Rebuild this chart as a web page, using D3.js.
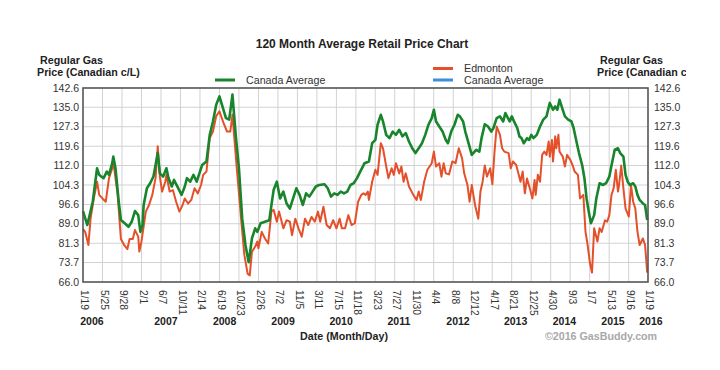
<!DOCTYPE html>
<html lang="en">
<head>
<meta charset="utf-8">
<script src="https://d3js.org/d3.v7.min.js"></script>
<style>
  body { margin: 0; background: #fff; }
  text { font-family: Arial, "Liberation Sans", sans-serif; }
</style>
</head>
<body>
<script>
// x axis tick dates (labels are month/day)
const tickDates = ["2006-01-19","2006-05-25","2006-09-28","2007-02-01","2007-06-07","2007-10-11",
  "2008-02-14","2008-06-19","2008-10-23","2009-02-26","2009-07-02","2009-11-05","2010-03-11",
  "2010-07-15","2010-11-18","2011-03-23","2011-07-27","2011-11-30","2012-04-04","2012-08-08",
  "2012-12-12","2013-04-17","2013-08-21","2013-12-25","2014-04-30","2014-09-03","2015-01-07",
  "2015-05-13","2015-09-16","2016-01-19"];
const years = ["2006","2007","2008","2009","2010","2011","2012","2013","2014","2015","2016"];
const yearDates = ["2006-03-18","2007-07-09","2008-07-22","2009-08-04","2010-08-14","2011-08-23",
  "2012-09-08","2013-09-15","2014-07-28","2015-06-07","2016-02-07"];
const yTicks = [66.0, 73.7, 81.3, 89.0, 96.6, 104.3, 112.0, 119.6, 127.3, 135.0, 142.6];

// weeks since 2006-01-19
const canadaWeeks = [0,4,9,13,15,17,19,22,24,27,28,30,33,35,39,42,45,48,51,53,55,56,59,62,65,67,69,71,74,77,79,82,84,88,91,94,96,99,102,105,108,110,114,117,120,123,126,
  132,135,138,141,144,147,150,153,156,159,161,164,168,172,174,176,179,182,185,188,191,194,197,200,203,206,209,212,215,218,223,226,229,232,235,238,241,244,247,250,253,256,260,
  264,267,270,272,275,277,280,283,286,289,292,295,298,301,304,307,310,313,316,319,322,324,326,329,332,335,337,340,343,346,348,351,353,356,359,363,366,368,371,374,377,379,382,385,388,390,
  394,396,398,401,403,405,407,410,412,414,416,419,422,425,428,431,434,436,438,440,443,445,448,451,453,456,458,461,463,465,467,469,472,474,477,480,483,486,488,491,494,496,499,501,503,505,508,510,512,514,517,519,521];
const canadaValues = [94.0,88.5,97.7,110.9,108.3,107.6,107.0,109.6,108.3,112.9,115.5,110.9,97.7,90.5,89.0,87.8,89.8,94.0,92.4,85.8,88.5,96.4,103.0,105.0,107.6,112.2,116.9,108.9,107.6,110.9,107.0,103.7,106.3,103.0,100.4,103.7,107.0,105.6,108.3,105.6,109.6,112.2,113.6,124.0,129.4,136.0,139.3,
  130.7,130.1,140.0,124.1,110.9,91.0,80.6,73.8,83.2,87.2,85.8,89.2,89.8,90.4,96.4,102.3,105.6,99.0,101.7,97.0,95.0,99.0,103.0,100.4,96.4,101.0,99.7,101.7,103.7,104.3,104.6,103.0,99.7,101.0,100.4,101.7,101.0,101.7,104.3,105.0,107.0,109.6,112.9,
  113.6,120.8,122.1,128.1,132.0,129.4,124.1,122.8,125.4,124.1,126.1,123.5,124.8,121.5,118.8,116.9,118.8,120.8,124.1,128.1,130.7,134.0,129.4,127.4,125.4,122.1,120.8,125.4,128.1,132.0,131.4,129.4,125.4,120.8,116.2,118.2,117.5,122.8,128.3,127.4,125.4,126.8,130.7,131.4,129.4,132.7,
  129.4,131.4,129.4,126.8,123.5,122.8,120.8,122.8,122.1,124.1,122.8,124.1,127.4,130.1,131.4,136.7,134.0,135.3,134.0,138.0,134.0,131.4,130.1,129.4,126.8,120.8,116.9,112.0,107.0,99.0,93.8,89.2,92.4,99.0,105.0,104.3,105.0,107.6,112.0,118.2,118.8,116.9,115.5,108.3,105.6,104.3,105.0,103.7,100.4,98.4,97.0,96.4,90.5];

const edmontonWeeks = [0,2,5,7,10,13,15,18,21,24,27,28,32,35,38,41,43,46,48,51,52,54,58,61,64,67,69,71,73,76,77,80,83,86,89,92,94,97,100,103,106,109,111,114,117,120,123,126,
  130,133,136,138,140,142,146,149,152,154,156,159,161,162,165,168,171,174,176,179,181,185,188,191,193,196,199,202,205,208,211,214,217,219,222,225,228,231,234,237,239,242,245,248,251,254,257,259,
  261,263,264,267,270,272,275,277,280,282,285,287,289,292,294,296,298,301,305,308,310,312,315,318,322,324,326,329,331,333,335,338,341,344,347,350,352,355,357,359,362,365,367,369,371,373,376,378,380,382,385,387,389,
  393,395,397,400,402,404,406,408,410,413,415,417,418,420,422,424,426,428,430,431,433,434,436,437,439,440,443,445,447,450,452,454,457,459,462,464,466,468,470,472,475,477,479,482,484,486,488,490,492,494,495,497,499,501,504,506,508,510,512,514,517,519,521];
const edmontonValues = [86.9,85.8,80.6,91.0,99.0,105.6,100.4,99.0,97.7,107.0,110.9,113.6,100.4,83.0,80.6,79.0,83.0,83.0,86.5,83.9,78.0,82.0,93.8,96.4,100.4,107.0,119.6,107.6,101.7,105.6,108.3,101.7,102.3,97.7,93.8,96.4,99.0,97.0,98.4,103.0,101.0,104.3,108.3,109.6,122.8,125.4,131.5,133.4,
  128.5,125.4,125.4,132.0,121.5,110.9,91.0,76.6,69.3,68.6,78.0,80.0,82.0,79.3,85.8,83.2,81.2,93.8,94.5,89.8,93.8,87.2,90.4,89.8,84.5,91.0,87.2,83.9,91.0,88.5,91.7,89.8,93.8,89.8,95.7,88.5,87.2,90.4,87.2,91.0,87.2,87.2,92.4,88.5,89.2,97.7,100.4,101.0,
  100.4,101.7,98.4,105.6,110.3,108.3,120.8,118.8,111.6,107.0,110.9,108.3,112.9,108.9,111.6,105.6,108.9,103.7,100.4,98.4,101.7,98.4,105.6,110.3,112.9,117.5,111.6,112.9,107.6,112.9,108.9,108.5,113.6,112.9,118.8,114.9,108.9,104.3,97.7,104.3,96.4,91.0,101.7,105.6,112.0,107.6,110.9,104.6,117.5,127.4,124.1,118.8,117.5,
  116.9,110.9,113.6,112.2,108.9,105.6,109.6,101.0,106.9,102.3,99.0,106.3,100.4,108.3,105.6,116.2,117.5,116.2,121.5,115.5,122.1,113.6,123.5,118.8,124.1,117.5,115.5,111.6,116.2,114.2,112.2,109.6,108.3,99.0,100.4,85.8,80.6,73.7,69.7,87.2,82.0,87.2,85.8,90.4,89.8,92.4,100.4,103.0,110.3,101.7,104.3,112.0,103.0,95.0,91.8,104.3,97.7,95.0,85.8,80.6,83.2,80.6,69.7];

const parse = d3.timeParse("%Y-%m-%d");
const start = parse("2006-01-19");
const weekDate = w => d3.timeDay.offset(start, w * 7);

const W = 720, H = 370;
const pLeft = 83, pRight = 648, pTop = 88, pBottom = 282;

const svg = d3.select("body").append("svg")
  .attr("width", W).attr("height", H);

const x = d3.scaleTime().domain([start, parse("2016-01-19")]).range([pLeft, pRight]);
const y = d3.scaleLinear().domain([66.0, 142.6]).range([pBottom, pTop]);

// grid
svg.append("g").selectAll("line").data(tickDates.slice(1, -1)).enter().append("line")
  .attr("x1", d => x(parse(d))).attr("x2", d => x(parse(d)))
  .attr("y1", pTop).attr("y2", pBottom)
  .attr("stroke", "#d2d2d2").attr("stroke-width", 1);
svg.append("g").selectAll("line").data(yTicks.slice(1, -1)).enter().append("line")
  .attr("x1", pLeft).attr("x2", pRight)
  .attr("y1", d => y(d)).attr("y2", d => y(d))
  .attr("stroke", "#d2d2d2").attr("stroke-width", 1);

// lines
const line = d3.line().x(d => x(weekDate(d[0]))).y(d => y(d[1]));
const edm = edmontonWeeks.map((w, i) => [w, edmontonValues[i]]);
const can = canadaWeeks.map((w, i) => [w, canadaValues[i]]);
svg.append("path").attr("d", line(edm))
  .attr("fill", "none").attr("stroke", "#e4502a").attr("stroke-width", 2).attr("stroke-linejoin", "round");
svg.append("path").attr("d", line(can))
  .attr("fill", "none").attr("stroke", "#18842c").attr("stroke-width", 2.6).attr("stroke-linejoin", "round");

// frame
svg.append("rect").attr("x", pLeft).attr("y", pTop).attr("width", pRight - pLeft).attr("height", pBottom - pTop)
  .attr("fill", "none").attr("stroke", "#555").attr("stroke-width", 1.6);

// y tick labels both sides
const fmt = d3.format(".1f");
svg.append("g").selectAll("text").data(yTicks).enter().append("text")
  .attr("x", pLeft - 4).attr("y", d => y(d)).attr("dy", "0.35em")
  .attr("text-anchor", "end").attr("font-size", 10.5).attr("fill", "#333")
  .text(d => fmt(d));
svg.append("g").selectAll("text").data(yTicks).enter().append("text")
  .attr("x", pRight + 6).attr("y", d => y(d)).attr("dy", "0.35em")
  .attr("font-size", 10.5).attr("fill", "#333")
  .text(d => fmt(d));

// x tick labels, rotated
const tfmt = d3.timeFormat("%-m/%-d");
svg.append("g").selectAll("text").data(tickDates).enter().append("text")
  .attr("transform", d => "translate(" + (x(parse(d)) + 2) + "," + (pBottom + 8) + ") rotate(90)")
  .attr("dy", "0.35em").attr("font-size", 10.3).attr("fill", "#333")
  .text(d => tfmt(parse(d)));

// year labels
svg.append("g").selectAll("text").data(years).enter().append("text")
  .attr("x", (d, i) => x(parse(yearDates[i]))).attr("y", 325)
  .attr("text-anchor", "middle").attr("font-size", 10.5).attr("font-weight", "bold").attr("fill", "#222")
  .text(d => d);

// titles
svg.append("text").attr("x", 362).attr("y", 48).attr("text-anchor", "middle")
  .attr("font-size", 12).attr("font-weight", "bold").attr("fill", "#222")
  .text("120 Month Average Retail Price Chart");
svg.append("text").attr("x", 40).attr("y", 63.5).attr("font-size", 10.7).attr("font-weight", "bold").attr("fill", "#222").text("Regular Gas");
svg.append("text").attr("x", 37).attr("y", 75.5).attr("font-size", 10.7).attr("font-weight", "bold").attr("fill", "#222").text("Price (Canadian c/L)");

svg.append("clipPath").attr("id", "rc").append("rect").attr("x", 0).attr("y", 0).attr("width", 686).attr("height", H);
const rt = svg.append("g").attr("clip-path", "url(#rc)");
rt.append("text").attr("x", 600).attr("y", 63.5).attr("font-size", 10.7).attr("font-weight", "bold").attr("fill", "#222").text("Regular Gas");
rt.append("text").attr("x", 597).attr("y", 75.5).attr("font-size", 10.7).attr("font-weight", "bold").attr("fill", "#222").text("Price (Canadian c/L)");

svg.append("text").attr("x", 344).attr("y", 340).attr("text-anchor", "middle")
  .attr("font-size", 10.7).attr("font-weight", "bold").attr("fill", "#222").text("Date (Month/Day)");
svg.append("text").attr("x", 601).attr("y", 340).attr("text-anchor", "middle")
  .attr("font-size", 10.7).attr("font-weight", "bold").attr("fill", "#a8a8a8").text("\u00a92016 GasBuddy.com");

// legends
const legend = [
  { name: "Canada Average", color: "#18842c", lx: 215, ly: 80 },
  { name: "Edmonton", color: "#e4502a", lx: 433, ly: 68.5 },
  { name: "Canada Average", color: "#3d8fdb", lx: 433, ly: 80 }
];
const lg = svg.append("g").selectAll("g").data(legend).enter().append("g");
lg.append("line").attr("x1", d => d.lx).attr("x2", d => d.lx + 20)
  .attr("y1", d => d.ly).attr("y2", d => d.ly)
  .attr("stroke", d => d.color).attr("stroke-width", 3);
lg.append("text").attr("x", d => d.lx + 31).attr("y", d => d.ly + 3.5)
  .attr("font-size", 10.7).attr("fill", "#333").text(d => d.name);
</script>
</body>
</html>
